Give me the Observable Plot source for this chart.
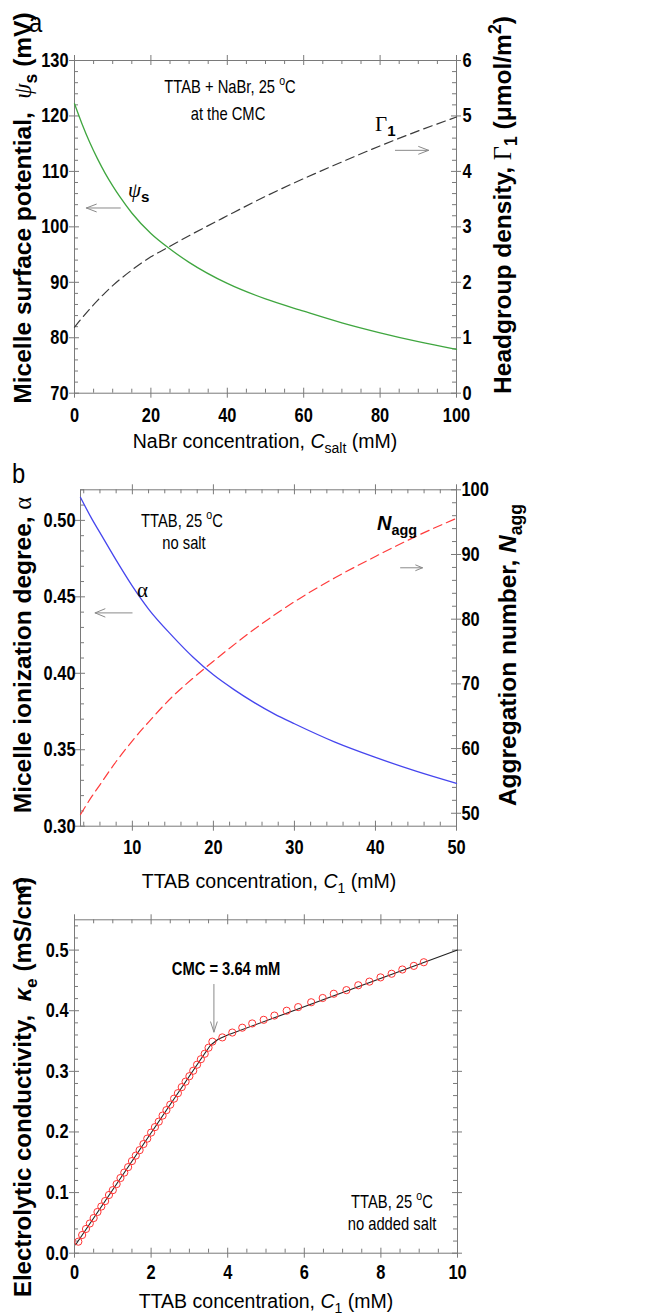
<!DOCTYPE html>
<html><head><meta charset="utf-8">
<script src="https://cdn.jsdelivr.net/npm/d3@7"></script>
<script src="https://cdn.jsdelivr.net/npm/@observablehq/plot@0.6"></script>
<style>
body{margin:0;background:#fff;}
#wrap{position:relative;width:652px;height:1316px;overflow:hidden;}
#wrap svg{position:absolute;left:0;overflow:visible;}
text{white-space:pre;}
</style></head><body><div id="wrap"></div>
<script>
// ---------- Panel a data ----------
const saltConc = [0,2,4,6,8,10,12,15,20,25,30,40,50,60,70,80,90,100];
const psiS     = [122.2,118.5,115.2,112.3,109.7,107.4,105.3,102.5,98.8,96.0,93.6,89.8,87.0,84.8,82.7,80.9,79.3,77.9];
const saltConcG = [0,2,4,6,8,10,15,20,25,30,40,50,60,70,80,90,100];
const gamma1    = [1.19,1.36,1.52,1.67,1.81,1.94,2.22,2.46,2.65,2.84,3.20,3.55,3.87,4.17,4.46,4.73,4.98];
const ticksAx  = [0,20,40,60,80,100];
const ticksAy  = [70,80,90,100,110,120,130];
const ticksAyR = [0,1,2,3,4,5,6];
const arrowsA = [{x1:12.0,y1:103.4,x2:3.1,y2:103.4},{x1:84.0,y1:113.8,x2:92.7,y2:113.8}];

// ---------- Panel b data ----------
const ttabB    = [3.6,5,6,8,10,12,15,17.5,20,22.5,25,27.5,30,35,40,45,50];
const alphaDeg = [0.515,0.501,0.492,0.474,0.457,0.442,0.424,0.4105,0.399,0.3895,0.381,0.3735,0.367,0.355,0.345,0.336,0.328];
const ttabN    = [3.6,5,6,8,10,12,15,17.5,20,25,30,35,40,45,50];
const nAgg     = [49.8,52.6,54.4,58.0,61.2,64.1,68.1,70.9,73.5,78.4,82.7,86.4,89.7,92.8,95.6];
const ticksBx  = [10,20,30,40,50];
const ticksBy  = [0.30,0.35,0.40,0.45,0.50];
const ticksByR = [50,60,70,80,90,100];
const arrowsB = [{x1:9.97,y1:0.4395,x2:5.4,y2:0.4395},{x1:43.1,y1:0.469,x2:45.8,y2:0.469}];

// ---------- Panel c data ----------
const ttabMeas = [0.1,0.2,0.3,0.4,0.5,0.6,0.7,0.8,0.9,1.0,1.1,1.2,1.3,1.4,1.5,1.6,1.7,1.8,1.9,2.0,
  2.1,2.2,2.3,2.4,2.5,2.6,2.7,2.8,2.9,3.0,3.1,3.2,3.3,3.4,3.5,3.6,
  3.86,4.12,4.38,4.64,4.94,5.22,5.54,5.84,6.18,6.48,6.77,7.10,7.41,7.70,7.99,8.28,8.56,8.86,9.12];
const kappaMeas = [0.019,0.030,0.040,0.049,0.058,0.068,0.077,0.086,0.096,0.104,0.114,0.124,0.133,0.142,0.152,0.161,0.170,0.180,0.189,0.199,
  0.208,0.217,0.227,0.236,0.245,0.255,0.264,0.274,0.283,0.292,0.301,0.311,0.320,0.329,0.339,0.349,
  0.356,0.364,0.372,0.379,0.385,0.392,0.400,0.406,0.414,0.421,0.428,0.434,0.442,0.448,0.455,0.461,0.468,0.474,0.480];
const fitConc  = [0.03,3.35,3.55,3.75,4.0,10];
const fitKappa = [0.014,0.325,0.343,0.353,0.360,0.500];
const ticksCx  = [0,2,4,6,8,10];
const ticksCy  = [0.0,0.1,0.2,0.3,0.4,0.5];
const arrowsC = [{x1:3.64,y1:0.4434,x2:3.64,y2:0.3648}];

// ---------- styling ----------
const SANS = "'Liberation Sans',Arial,Helvetica,sans-serif";
const SERIF = "'Liberation Serif','Times New Roman',serif";
const AX = "#7a7a7a";
const W = 652;
const NARROWF = 0.82;
const wrap = document.getElementById("wrap");

function ticksMarks(o) {
  const {Wp, Hp, xMajor, xMinor, yMajor, yMinor, yrMajor, yrMinor} = o;
  const M = 5, m = 4, s = {stroke: AX, strokeWidth: 1};
  return [
    Plot.tickX(xMajor, {x: d => d, insetTop: Hp - M, insetBottom: -M, ...s}),
    Plot.tickX(xMajor, {x: d => d, insetTop: -M, insetBottom: Hp - M, ...s}),
    Plot.tickX(xMinor, {x: d => d, insetTop: Hp - m, insetBottom: 0, ...s}),
    Plot.tickX(xMinor, {x: d => d, insetTop: 0, insetBottom: Hp - m, ...s}),
    Plot.tickY(yMajor, {y: d => d, insetLeft: -M, insetRight: Wp - M, ...s}),
    Plot.tickY(yMinor, {y: d => d, insetLeft: 0, insetRight: Wp - m, ...s}),
    Plot.tickY(yrMajor, {y: d => d, insetLeft: Wp - M, insetRight: -M, ...s}),
    Plot.tickY(yrMinor, {y: d => d, insetLeft: Wp - m, insetRight: 0, ...s}),
    Plot.frame({stroke: AX, strokeWidth: 1})
  ];
}

function addText(svg, top, opt, parts) {
  const {x, y, anchor = "start", size = 18, family = SANS, weight = "normal", rotate = 0, fill = "#000", squeeze = 1} = opt;
  const t = d3.select(svg).append("text")
    .attr("transform", `translate(${x},${y - top})` + (rotate ? ` rotate(${rotate})` : "") + (squeeze !== 1 ? ` scale(${squeeze},1)` : ""))
    .attr("text-anchor", anchor).attr("font-size", size).attr("font-family", family)
    .attr("font-weight", weight).attr("fill", fill);
  let shift = 0;
  for (const p of parts) {
    const o = typeof p === "string" ? {t: p} : p;
    const ts = t.append("tspan").text(o.t);
    const target = o.sub ? size * 0.26 : o.sup ? -size * 0.42 : 0;
    const dy = target - shift; shift = target;
    if (dy) ts.attr("dy", dy);
    if (o.sub || o.sup) ts.attr("font-size", size * 0.72);
    if (o.size) ts.attr("font-size", o.size);
    if (o.italic) ts.attr("font-style", "italic");
    if (o.family) ts.attr("font-family", o.family);
    if (o.weight) ts.attr("font-weight", o.weight);
  }
}

function place(svg, top) {
  svg.style.top = top + "px";
  wrap.appendChild(svg);
  d3.select(svg).selectAll('g[aria-label$="tick label"] text').each(function() {
    const tr = this.getAttribute("transform") || "";
    let pre = "";
    const xa = this.getAttribute("x");
    if (xa !== null && xa.trim() !== "" && !isNaN(+xa) && +xa !== 0) {
      this.removeAttribute("x");
      pre = ` translate(${+xa},0)`;
    }
    this.setAttribute("transform", `${tr}${pre} scale(${NARROWF},1)`);
  });
}

const axisStyle = {fontSize: 20, fontWeight: "bold", fontFamily: SANS, fill: "#000"};

// ================= Panel a =================
{
  const top = 0, height = 455, ml = 74, mr = 196, mt = 60, mb = 62.3;
  const Wp = W - ml - mr, Hp = height - mt - mb;
  const toA = g => 70 + 10 * g;
  const psiData = saltConc.map((x, i) => ({x, y: psiS[i]}));
  const gData = saltConcG.map((x, i) => ({x, y: toA(gamma1[i])}));
  const minorX = d3.range(0, 101, 5).filter(d => d % 20 !== 0);
  const minorY = d3.range(70, 131, 2).filter(d => d % 10 !== 0);
  const minorYR = d3.range(0, 31).filter(i => i % 5 !== 0).map(i => toA(i / 5));
  const svg = Plot.plot({
    width: W, height, marginLeft: ml, marginRight: mr, marginTop: mt, marginBottom: mb,
    x: {domain: [0, 100]}, y: {domain: [70, 130]},
    style: {fontFamily: SANS, background: "transparent", color: "#000"},
    marks: [
      ...ticksMarks({Wp, Hp, xMajor: ticksAx, xMinor: minorX, yMajor: ticksAy, yMinor: minorY,
        yrMajor: ticksAyR.map(toA), yrMinor: minorYR}),
      Plot.axisX(ticksAx, {anchor: "bottom", tickSize: 0, tickPadding: 15, label: null, ...axisStyle}),
      Plot.axisY(ticksAy, {anchor: "left", tickSize: 0, tickPadding: 6, label: null, ...axisStyle}),
      Plot.axisY(ticksAyR.map(toA), {anchor: "right", tickSize: 0, tickPadding: 6, label: null,
        tickFormat: d => String(Math.round((d - 70) / 10)), ...axisStyle}),
      Plot.line(gData, {x: "x", y: "y", stroke: "#3a3a3a", strokeWidth: 1.2, strokeDasharray: "9,5", curve: "monotone-x"}),
      Plot.line(psiData, {x: "x", y: "y", stroke: "#3fa63f", strokeWidth: 1.3, curve: "monotone-x"}),
      Plot.arrow(arrowsA, {x1: "x1", y1: "y1", x2: "x2", y2: "y2", stroke: "#8a8a8a", strokeWidth: 1, headLength: 16, headAngle: 42})
    ]
  });
  place(svg, top);
  addText(svg, top, {x: 29, y: 32, size: 28, squeeze: 0.85}, ["a"]);
  addText(svg, top, {x: 31, y: 208, anchor: "middle", size: 24.5, weight: "bold", rotate: -90},
    ["Micelle surface potential,  ", {t: "ψ", family: SERIF, italic: true, weight: "normal"}, {t: "s", sub: true}, " (mV)"]);
  addText(svg, top, {x: 511, y: 205, anchor: "middle", size: 24.5, weight: "bold", rotate: -90},
    ["Headgroup density, ", {t: "Γ", family: SERIF, weight: "normal"}, {t: "1", sub: true}, " (μmol/m", {t: "2", sup: true}, ")"]);
  addText(svg, top, {x: 265, y: 448, anchor: "middle", size: 19.5},
    ["NaBr concentration, ", {t: "C", italic: true}, {t: "salt", sub: true}, " (mM)"]);
  addText(svg, top, {x: 230, y: 93, anchor: "middle", size: 18, squeeze: NARROWF},
    ["TTAB + NaBr, 25 ", {t: "o", sup: true}, "C"]);
  addText(svg, top, {x: 228, y: 120, anchor: "middle", size: 18, squeeze: NARROWF}, ["at the CMC"]);
  addText(svg, top, {x: 375, y: 131, size: 21, family: SERIF},
    ["Γ", {t: "1", sub: true, family: SANS, weight: "bold"}]);
  addText(svg, top, {x: 128, y: 197, size: 21, family: SERIF},
    [{t: "ψ", italic: true}, {t: "s", sub: true, family: SANS, weight: "bold"}]);
}

// ================= Panel b =================
{
  const top = 455, height = 425, ml = 80, mr = 196, mt = 34.3, mb = 54.3;
  const Wp = W - ml - mr, Hp = height - mt - mb;
  const toB = r => 0.30 + (r - 48) * 0.22 / 52;
  const fromB = d => 48 + (d - 0.30) * 52 / 0.22;
  const aData = ttabB.map((x, i) => ({x, y: alphaDeg[i]}));
  const nData = ttabN.map((x, i) => ({x, y: toB(nAgg[i])}));
  const minorX = d3.range(4, 51, 2).filter(d => d % 10 !== 0);
  const minorY = d3.range(31, 53).filter(i => i % 5 !== 0).map(i => i / 100);
  const minorYR = d3.range(50, 100, 2).filter(d => d % 10 !== 0).map(toB);
  const svg = Plot.plot({
    width: W, height, marginLeft: ml, marginRight: mr, marginTop: mt, marginBottom: mb,
    x: {domain: [3.6, 50]}, y: {domain: [0.30, 0.52]},
    style: {fontFamily: SANS, background: "transparent", color: "#000"},
    marks: [
      ...ticksMarks({Wp, Hp, xMajor: ticksBx, xMinor: minorX, yMajor: ticksBy, yMinor: minorY,
        yrMajor: ticksByR.map(toB), yrMinor: minorYR}),
      Plot.axisX(ticksBx, {anchor: "bottom", tickSize: 0, tickPadding: 14, label: null, ...axisStyle}),
      Plot.axisY(ticksBy, {anchor: "left", tickSize: 0, tickPadding: 5, label: null, tickFormat: d3.format(".2f"), ...axisStyle}),
      Plot.axisY(ticksByR.map(toB), {anchor: "right", tickSize: 0, tickPadding: 5, label: null,
        tickFormat: d => String(Math.round(fromB(d))), ...axisStyle}),
      Plot.line(nData, {x: "x", y: "y", stroke: "#ff3b3b", strokeWidth: 1.2, strokeDasharray: "9,5", curve: "monotone-x"}),
      Plot.line(aData, {x: "x", y: "y", stroke: "#4646ee", strokeWidth: 1.3, curve: "monotone-x"}),
      Plot.arrow(arrowsB, {x1: "x1", y1: "y1", x2: "x2", y2: "y2", stroke: "#8a8a8a", strokeWidth: 1, headLength: 16, headAngle: 45})
    ]
  });
  place(svg, top);
  addText(svg, top, {x: 12, y: 483, size: 28, squeeze: 0.85}, ["b"]);
  addText(svg, top, {x: 31, y: 655, anchor: "middle", size: 24.5, weight: "bold", rotate: -90},
    ["Micelle ionization degree, ", {t: "α", family: SERIF, weight: "normal"}]);
  addText(svg, top, {x: 516, y: 655, anchor: "middle", size: 24.5, weight: "bold", rotate: -90},
    ["Aggregation number, ", {t: "N", italic: true}, {t: "agg", sub: true}]);
  addText(svg, top, {x: 269, y: 888, anchor: "middle", size: 19.5},
    ["TTAB concentration, ", {t: "C", italic: true}, {t: "1", sub: true}, " (mM)"]);
  addText(svg, top, {x: 182, y: 527, anchor: "middle", size: 18, squeeze: NARROWF},
    ["TTAB, 25 ", {t: "o", sup: true}, "C"]);
  addText(svg, top, {x: 184, y: 549, anchor: "middle", size: 18, squeeze: NARROWF}, ["no salt"]);
  addText(svg, top, {x: 137, y: 597, size: 21, family: SERIF}, ["α"]);
  addText(svg, top, {x: 377, y: 530, size: 20, family: SANS, weight: "bold"},
    [{t: "N", italic: true}, {t: "agg", sub: true}]);
}

// ================= Panel c =================
{
  const top = 880, height = 436, ml = 74, mr = 195, mt = 39.3, mb = 63.3;
  const Wp = W - ml - mr, Hp = height - mt - mb;
  const measData = ttabMeas.map((x, i) => ({x, y: kappaMeas[i]}));
  const fitData = fitConc.map((x, i) => ({x, y: fitKappa[i]}));
  const minorX = d3.range(0, 21).filter(i => i % 4 !== 0).map(i => i / 2);
  const minorY = d3.range(2, 55, 2).filter(i => i % 10 !== 0).map(i => i / 100);
  const svg = Plot.plot({
    width: W, height, marginLeft: ml, marginRight: mr, marginTop: mt, marginBottom: mb,
    x: {domain: [0, 10]}, y: {domain: [0, 0.55]},
    style: {fontFamily: SANS, background: "transparent", color: "#000"},
    marks: [
      ...ticksMarks({Wp, Hp, xMajor: ticksCx, xMinor: minorX, yMajor: ticksCy, yMinor: minorY,
        yrMajor: ticksCy, yrMinor: minorY}),
      Plot.axisX(ticksCx, {anchor: "bottom", tickSize: 0, tickPadding: 12, label: null, ...axisStyle}),
      Plot.axisY(ticksCy, {anchor: "left", tickSize: 0, tickPadding: 6, label: null, tickFormat: d3.format(".1f"), ...axisStyle}),
      Plot.line(fitData, {x: "x", y: "y", stroke: "#222", strokeWidth: 1.1}),
      Plot.dot(measData, {x: "x", y: "y", r: 3.6, stroke: "#ff3434", strokeWidth: 1, fill: "none"}),
      Plot.arrow(arrowsC, {x1: "x1", y1: "y1", x2: "x2", y2: "y2", stroke: "#8a8a8a", strokeWidth: 1, headLength: 16, headAngle: 36})
    ]
  });
  place(svg, top);
  addText(svg, top, {x: 15, y: 893, size: 28, squeeze: 0.85}, ["c"]);
  addText(svg, top, {x: 31, y: 1087, anchor: "middle", size: 24, weight: "bold", rotate: -90},
    ["Electrolytic conductivity,  ", {t: "κ", italic: true}, {t: "e", sub: true}, " (mS/cm)"]);
  addText(svg, top, {x: 266, y: 1308, anchor: "middle", size: 19.5},
    ["TTAB concentration, ", {t: "C", italic: true}, {t: "1", sub: true}, " (mM)"]);
  addText(svg, top, {x: 226, y: 975, anchor: "middle", size: 18, weight: "bold", squeeze: NARROWF}, ["CMC = 3.64 mM"]);
  addText(svg, top, {x: 392, y: 1208, anchor: "middle", size: 18, squeeze: NARROWF},
    ["TTAB, 25 ", {t: "o", sup: true}, "C"]);
  addText(svg, top, {x: 392, y: 1230, anchor: "middle", size: 18, squeeze: NARROWF}, ["no added salt"]);
}
</script></body></html>
